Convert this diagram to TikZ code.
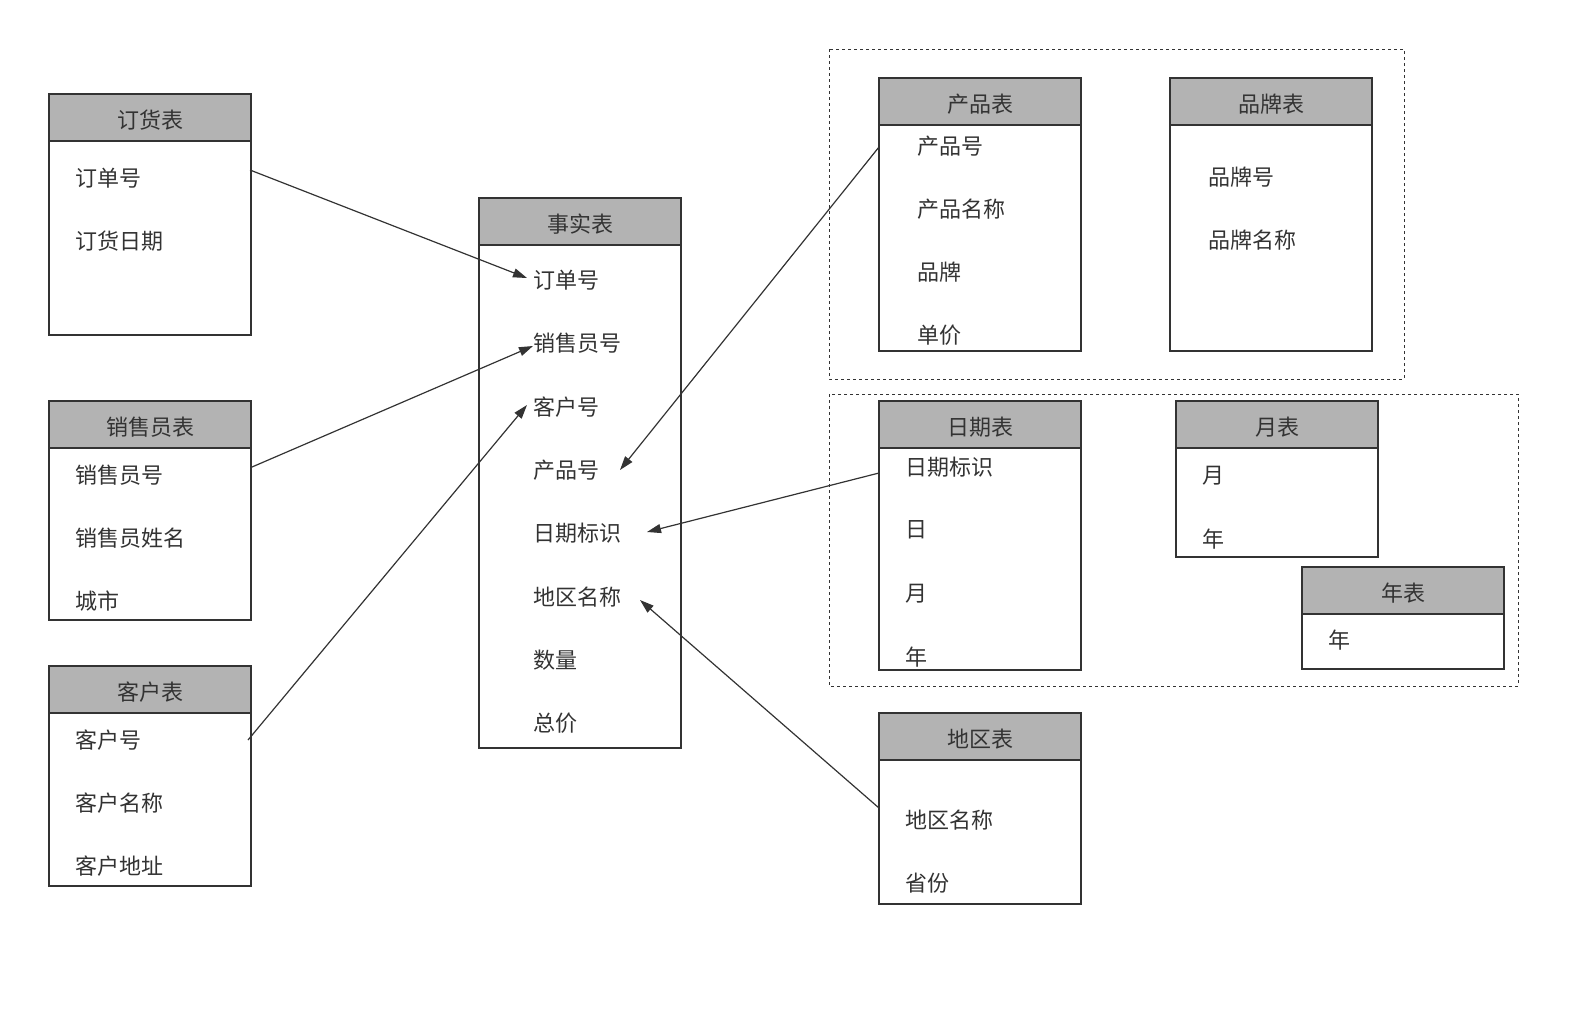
\documentclass[tikz,border=0pt]{standalone}
\usepackage{fontspec}
\setmainfont{Noto Sans CJK SC}
\usetikzlibrary{arrows.meta}
\definecolor{ln}{HTML}{333333}
\definecolor{hd}{HTML}{B3B3B3}
\tikzset{
 tbl/.style={draw=ln,line width=1.2pt},
 hdr/.style={draw=ln,fill=hd,line width=1.2pt},
 ttl/.style={font=\fontsize{22}{24}\selectfont,text=ln},
 itm/.style={anchor=west,font=\fontsize{22}{24}\selectfont,text=ln,inner sep=0pt},
 grp/.style={draw=ln,dashed,line width=1pt},
 arr/.style={draw=ln,line width=1.2pt,-{Triangle[length=14pt,width=9pt]}}
}
\newcommand{\mktable}[7]{% name x1 y1 x2 y2 title items-x
 \draw[tbl] (#2,#3) rectangle (#4,#5);
 \draw[hdr] (#2,#3) rectangle (#4,#3+47);
 \node[ttl] (#1) at ({(#2+#4)/2},#3+26) {#6};
}
\begin{document}
\begin{tikzpicture}[x=1pt,y=-1pt]
\useasboundingbox (0,0) rectangle (1584,1010);
\draw[grp] (829,49) rectangle (1404,379);
\draw[grp] (829,394) rectangle (1518,686);
\mktable{dh}{49}{94}{251}{335}{订货表}{}
\node[itm] (dh1) at (75,178) {订单号};
\node[itm] (dh2) at (75,241) {订货日期};
\mktable{xs}{49}{401}{251}{620}{销售员表}{}
\node[itm] (xs1) at (75,475) {销售员号};
\node[itm] (xs2) at (75,538) {销售员姓名};
\node[itm] (xs3) at (75,601) {城市};
\mktable{kh}{49}{666}{251}{886}{客户表}{}
\node[itm] (kh1) at (75,740) {客户号};
\node[itm] (kh2) at (75,803) {客户名称};
\node[itm] (kh3) at (75,866) {客户地址};
\mktable{ss}{479}{198}{681}{748}{事实表}{}
\node[itm] (s1) at (533,280) {订单号};
\node[itm] (s2) at (533,343) {销售员号};
\node[itm] (s3) at (533,407) {客户号};
\node[itm] (s4) at (533,470) {产品号};
\node[itm] (s5) at (533,533) {日期标识};
\node[itm] (s6) at (533,597) {地区名称};
\node[itm] (s7) at (533,660) {数量};
\node[itm] (s8) at (533,723) {总价};
\mktable{cp}{879}{78}{1081}{351}{产品表}{}
\node[itm] (cp1) at (917,146) {产品号};
\node[itm] (cp2) at (917,209) {产品名称};
\node[itm] (cp3) at (917,272) {品牌};
\node[itm] (cp4) at (917,335) {单价};
\mktable{pp}{1170}{78}{1372}{351}{品牌表}{}
\node[itm] (pp1) at (1208,177) {品牌号};
\node[itm] (pp2) at (1208,240) {品牌名称};
\mktable{rq}{879}{401}{1081}{670}{日期表}{}
\node[itm] (rq1) at (905,467) {日期标识};
\node[itm] (rq2) at (905,530) {日};
\node[itm] (rq3) at (905,594) {月};
\node[itm] (rq4) at (905,657) {年};
\mktable{yb}{1176}{401}{1378}{557}{月表}{}
\node[itm] (yb1) at (1202,476) {月};
\node[itm] (yb2) at (1202,539) {年};
\mktable{nb}{1302}{567}{1504}{669}{年表}{}
\node[itm] (nb1) at (1328,640) {年};
\mktable{dq}{879}{713}{1081}{904}{地区表}{}
\node[itm] (dq1) at (905,820) {地区名称};
\node[itm] (dq2) at (905,883) {省份};
\coordinate (a1) at (250,170); \coordinate (b1) at (527,278);
\coordinate (a2) at (252,467); \coordinate (b2) at (533,346);
\coordinate (a3) at (248,740); \coordinate (b3) at (527,405);
\coordinate (a4) at (879,147); \coordinate (b4) at (620,470);
\coordinate (a5) at (879,473); \coordinate (b5) at (647,532);
\coordinate (a6) at (879,808); \coordinate (b6) at (640,600);
\draw[arr] (a1) -- (b1);
\draw[arr] (a2) -- (b2);
\draw[arr] (a3) -- (b3);
\draw[arr] (a4) -- (b4);
\draw[arr] (a5) -- (b5);
\draw[arr] (a6) -- (b6);
\end{tikzpicture}
\end{document}
